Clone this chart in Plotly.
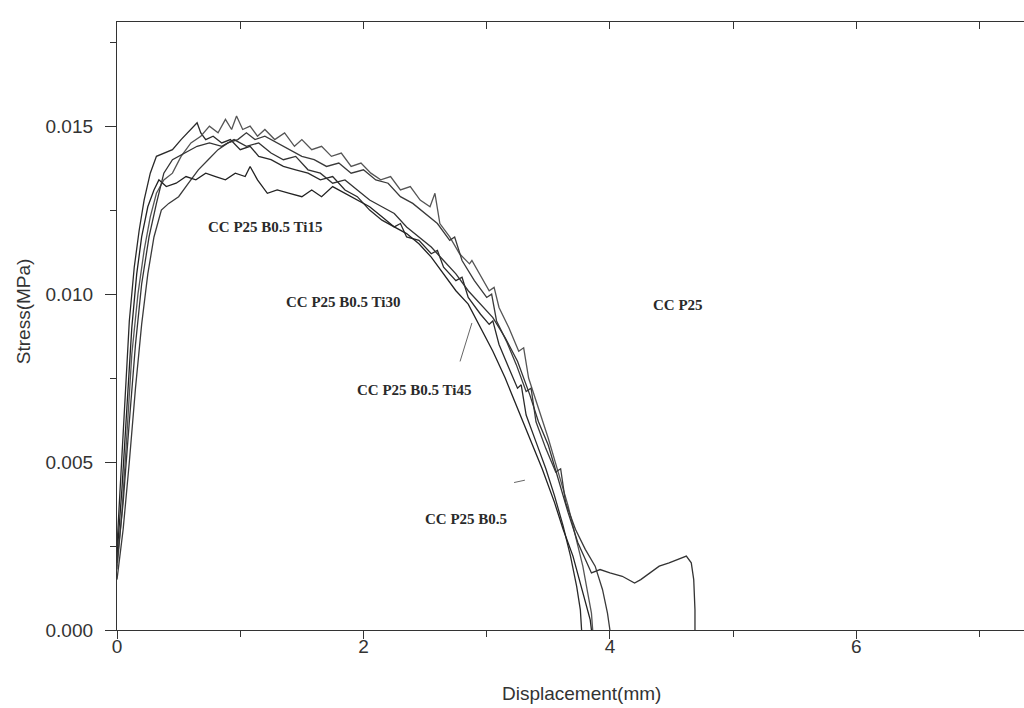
import plotly.graph_objects as go

# ---- data ----
ti15_x = [0.0, 0.03, 0.06, 0.1, 0.14, 0.18, 0.22, 0.27, 0.32, 0.38, 0.45, 0.52, 0.6, 0.65, 0.68, 0.72, 0.78, 0.85, 0.92, 1.0, 1.08, 1.15, 1.25, 1.35, 1.45, 1.55, 1.65, 1.75, 1.85, 1.95, 2.05, 2.15, 2.25, 2.3, 2.35, 2.45, 2.55, 2.6, 2.65, 2.75, 2.8, 2.85, 2.95, 3.02, 3.05, 3.1, 3.18, 3.25, 3.28, 3.32, 3.4, 3.48, 3.55, 3.62, 3.68, 3.73, 3.76, 3.77]
ti15_y = [0.0025, 0.0045, 0.0068, 0.0092, 0.0108, 0.0119, 0.0128, 0.0136, 0.0141, 0.0142, 0.0143, 0.0146, 0.0149, 0.0151, 0.0148, 0.0146, 0.0147, 0.0145, 0.0146, 0.0143, 0.0144, 0.0141, 0.0140, 0.0138, 0.0137, 0.0136, 0.0134, 0.0135, 0.0131, 0.0129, 0.0125, 0.0122, 0.0120, 0.0121, 0.0117, 0.0116, 0.0112, 0.0113, 0.0108, 0.0104, 0.0105, 0.0099, 0.0094, 0.0091, 0.0092, 0.0085, 0.0078, 0.0072, 0.0073, 0.0064, 0.0056, 0.0048, 0.0040, 0.0031, 0.0022, 0.0013, 0.0006, 0.0]

ti30_x = [0.0, 0.04, 0.08, 0.12, 0.17, 0.22, 0.27, 0.32, 0.38, 0.45, 0.52, 0.6, 0.68, 0.75, 0.82, 0.88, 0.93, 0.97, 1.02, 1.08, 1.14, 1.2, 1.28, 1.36, 1.44, 1.5, 1.58, 1.66, 1.74, 1.82, 1.9, 1.98, 2.06, 2.14, 2.22, 2.3, 2.38, 2.46, 2.54, 2.58, 2.62, 2.7, 2.78, 2.86, 2.88, 2.94, 3.02, 3.06, 3.1, 3.18, 3.26, 3.3, 3.34, 3.42, 3.5, 3.58, 3.66, 3.72, 3.78, 3.82, 3.85, 3.86]
ti30_y = [0.0018, 0.0035, 0.0058, 0.0082, 0.0100, 0.0113, 0.0123, 0.0130, 0.0134, 0.0136, 0.0141, 0.0145, 0.0147, 0.0150, 0.0148, 0.0152, 0.0149, 0.0153, 0.0149, 0.0150, 0.0147, 0.0149, 0.0146, 0.0148, 0.0144, 0.0146, 0.0143, 0.0144, 0.0141, 0.0142, 0.0138, 0.0139, 0.0136, 0.0134, 0.0135, 0.0131, 0.0132, 0.0128, 0.0126, 0.0130, 0.0121, 0.0117, 0.0112, 0.0109, 0.0110, 0.0106, 0.0101, 0.0102, 0.0096, 0.0090, 0.0083, 0.0084, 0.0075, 0.0066, 0.0057, 0.0047, 0.0037, 0.0028, 0.0019, 0.0011, 0.0005, 0.0]

ti45_x = [0.0, 0.05, 0.1, 0.15, 0.2, 0.25, 0.3, 0.36, 0.42, 0.5, 0.58, 0.66, 0.74, 0.82, 0.9, 0.98, 1.05, 1.12, 1.2, 1.3, 1.4, 1.5, 1.6, 1.7, 1.8, 1.9, 2.0, 2.1, 2.2, 2.3, 2.4, 2.5, 2.6, 2.7, 2.74, 2.8, 2.9, 3.0, 3.04, 3.08, 3.16, 3.24, 3.32, 3.36, 3.4, 3.48, 3.56, 3.6, 3.64, 3.72, 3.8, 3.88, 3.94, 3.98, 4.0]
ti45_y = [0.0015, 0.0030, 0.0050, 0.0072, 0.0091, 0.0106, 0.0117, 0.0125, 0.0127, 0.0129, 0.0133, 0.0137, 0.0140, 0.0143, 0.0145, 0.0146, 0.0148, 0.0146, 0.0147, 0.0145, 0.0143, 0.0141, 0.0140, 0.0138, 0.0139, 0.0136, 0.0137, 0.0134, 0.0133, 0.0129, 0.0127, 0.0124, 0.0121, 0.0116, 0.0117, 0.0110, 0.0104, 0.0099, 0.0100, 0.0092, 0.0086, 0.0079, 0.0071, 0.0072, 0.0062, 0.0054, 0.0047, 0.0048, 0.0038, 0.0030, 0.0024, 0.0019, 0.0012, 0.0005, 0.0]

b05_x = [0.0, 0.04, 0.08, 0.12, 0.16, 0.2, 0.25, 0.3, 0.34, 0.4, 0.48, 0.56, 0.64, 0.72, 0.8, 0.88, 0.96, 1.04, 1.08, 1.14, 1.22, 1.3, 1.4, 1.5, 1.58, 1.66, 1.75, 1.85, 1.95, 2.05, 2.15, 2.25, 2.35, 2.45, 2.55, 2.65, 2.75, 2.85, 2.95, 3.05, 3.15, 3.25, 3.35, 3.45, 3.55, 3.62, 3.7, 3.76, 3.8, 3.84, 3.85]
b05_y = [0.0022, 0.0042, 0.0066, 0.0090, 0.0106, 0.0117, 0.0126, 0.0131, 0.0134, 0.0132, 0.0133, 0.0135, 0.0134, 0.0136, 0.0135, 0.0134, 0.0136, 0.0135, 0.0138, 0.0134, 0.0130, 0.0131, 0.0130, 0.0129, 0.0131, 0.0129, 0.0132, 0.0130, 0.0128, 0.0126, 0.0123, 0.0120, 0.0118, 0.0115, 0.0111, 0.0106, 0.0101, 0.0097, 0.0090, 0.0083, 0.0075, 0.0066, 0.0057, 0.0048, 0.0038, 0.0030, 0.0022, 0.0014, 0.0008, 0.0003, 0.0]

p25_x = [0.0, 0.05, 0.1, 0.15, 0.2, 0.26, 0.32, 0.38, 0.45, 0.55, 0.65, 0.75, 0.85, 0.95, 1.05, 1.15, 1.25, 1.35, 1.45, 1.55, 1.65, 1.75, 1.85, 1.95, 2.05, 2.15, 2.25, 2.35, 2.45, 2.55, 2.65, 2.75, 2.85, 2.95, 3.05, 3.15, 3.25, 3.35, 3.42, 3.5, 3.58, 3.66, 3.74, 3.8, 3.85, 3.92, 4.0, 4.1, 4.2, 4.25, 4.32, 4.4, 4.48, 4.55, 4.62, 4.66, 4.68, 4.69, 4.69]
p25_y = [0.0020, 0.0038, 0.0062, 0.0085, 0.0103, 0.0117, 0.0127, 0.0136, 0.0140, 0.0142, 0.0144, 0.0145, 0.0144, 0.0146, 0.0144, 0.0145, 0.0142, 0.0140, 0.0141, 0.0137, 0.0136, 0.0133, 0.0134, 0.0131, 0.0128, 0.0126, 0.0124, 0.0120, 0.0117, 0.0114, 0.0110, 0.0106, 0.0101, 0.0097, 0.0093, 0.0087, 0.0080, 0.0070, 0.0062, 0.0055, 0.0045, 0.0035, 0.0026, 0.0021, 0.0017, 0.0018, 0.0017, 0.0016, 0.0014, 0.0015, 0.0017, 0.0019, 0.0020, 0.0021, 0.0022, 0.0020, 0.0015, 0.0006, 0.0]

label_text = ["CC P25 B0.5 Ti15", "CC P25 B0.5 Ti30", "CC P25 B0.5 Ti45", "CC P25 B0.5", "CC P25"]
label_x = [1.2, 1.83, 2.41, 2.83, 4.55]
label_y = [0.0120, 0.00976, 0.00714, 0.0033, 0.00967]

# small leader strokes near two labels: (tip x, tip y, tail x, tail y)
leader_tip_x = [2.88, 3.31]
leader_tip_y = [0.00914, 0.00446]
leader_tail_x = [2.78, 3.21]
leader_tail_y = [0.00795, 0.00438]

x_ticks = [0, 2, 4, 6]
y_ticks = [0.000, 0.005, 0.010, 0.015]
x_title = "Displacement(mm)"
y_title = "Stress(MPa)"

series = [
    ("CC P25 B0.5 Ti15", ti15_x, ti15_y, "#2a2a2a"),
    ("CC P25 B0.5 Ti30", ti30_x, ti30_y, "#555555"),
    ("CC P25 B0.5 Ti45", ti45_x, ti45_y, "#3a3a3a"),
    ("CC P25 B0.5", b05_x, b05_y, "#222222"),
    ("CC P25", p25_x, p25_y, "#333333"),
]

fig = go.Figure()
for name, xs, ys, col in series:
    fig.add_trace(go.Scatter(x=xs, y=ys, mode="lines", name=name,
                             line=dict(color=col, width=1.3), showlegend=False))

# top axis carrier (ticks pointing inward)
fig.add_trace(go.Scatter(x=[], y=[], xaxis="x2", showlegend=False))

for t, lx, ly in zip(label_text, label_x, label_y):
    fig.add_annotation(x=lx, y=ly, text="<b>" + t + "</b>", showarrow=False,
                       font=dict(family="Liberation Serif", size=15, color="#2a2a2a"))

for tx, ty, sx, sy in zip(leader_tip_x, leader_tip_y, leader_tail_x, leader_tail_y):
    fig.add_annotation(x=tx, y=ty, ax=sx, ay=sy, axref="x", ayref="y", text="",
                       showarrow=True, arrowhead=0, arrowwidth=1, arrowcolor="#666")

# axis titles
fig.add_annotation(xref="paper", yref="paper", x=0.512, y=-0.125, text=x_title,
                   showarrow=False, font=dict(family="Liberation Sans", size=19, color="#333"))
fig.add_annotation(xref="paper", yref="paper", x=-0.117, y=0.525, text=y_title, textangle=-90,
                   showarrow=False, font=dict(family="Liberation Sans", size=19, color="#333"))

xr = [0, 7.36]
fig.update_layout(
    width=1024, height=708,
    margin=dict(l=117, r=0, t=22, b=78),
    paper_bgcolor="white", plot_bgcolor="white",
    font=dict(family="Liberation Sans", size=19, color="#333"),
    xaxis=dict(range=xr, tickvals=x_ticks, ticks="outside", ticklen=8, tickwidth=1.2,
               tickcolor="#333", showline=True, linecolor="#333", linewidth=1.3,
               showgrid=False, zeroline=False, automargin=False, ticklabelstandoff=-9,
               minor=dict(tickvals=[1, 3, 5, 7], ticks="outside", ticklen=6, tickcolor="#333")),
    xaxis2=dict(range=xr, overlaying="x", side="top", tickvals=[1, 2, 3, 4, 5, 6, 7],
                ticks="inside", ticklen=7, tickcolor="#333", showticklabels=False,
                showline=True, linecolor="#333", linewidth=1.3, showgrid=False,
                zeroline=False, automargin=False),
    yaxis=dict(range=[0, 0.0181], tickvals=y_ticks, ticktext=["0.000", "0.005", "0.010", "0.015"],
               ticks="outside", ticklen=11, tickwidth=1.2, tickcolor="#333",
               showline=True, linecolor="#333", linewidth=1.3, showgrid=False, zeroline=False,
               automargin=False, ticklabelstandoff=8,
               minor=dict(tickvals=[0.0025, 0.0075, 0.0125, 0.0175], ticks="outside",
                          ticklen=6, tickcolor="#333")),
)

fig.write_html("out.html", config={"displayModeBar": False},
               post_script="document.body.style.margin='0';document.body.style.overflow='hidden';")
